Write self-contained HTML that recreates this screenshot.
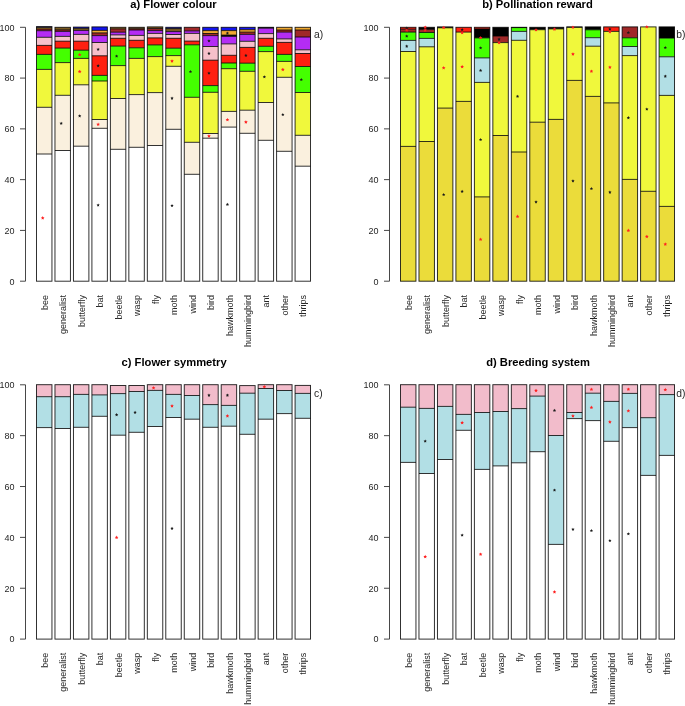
<!DOCTYPE html>
<html><head><meta charset="utf-8"><title>Pollination syndromes</title>
<style>
html,body{margin:0;padding:0;background:#fff;}
body{width:685px;height:706px;overflow:hidden;}
svg{display:block;will-change:transform;}
text{font-family:"Liberation Sans",sans-serif;fill:#262626;}
.s{stroke:rgba(0,0,0,0.85);stroke-width:0.95;fill:none;}
.ax{stroke:#333;stroke-width:0.9;}
.yl{font-size:9px;text-anchor:end;}
.xl{font-size:9px;text-anchor:end;}
.tt{font-size:11.2px;font-weight:bold;text-anchor:middle;fill:#000;}
.tg{font-size:10.3px;}
</style></head><body>
<svg width="685" height="706" viewBox="0 0 685 706">
<rect width="685" height="706" fill="#fff"/>
<rect x="36.50" y="26.60" width="15.45" height="1.20" fill="#202060"/>
<rect x="36.50" y="27.80" width="15.45" height="1.20" fill="#F0A830"/>
<rect x="36.50" y="29.00" width="15.45" height="1.70" fill="#A02828"/>
<rect x="36.50" y="30.70" width="15.45" height="6.60" fill="#B42CF4"/>
<rect x="36.50" y="37.30" width="15.45" height="8.10" fill="#F6C0CA"/>
<rect x="36.50" y="45.40" width="15.45" height="9.00" fill="#FF2010"/>
<rect x="36.50" y="54.40" width="15.45" height="15.00" fill="#44FF00"/>
<rect x="36.50" y="69.40" width="15.45" height="37.90" fill="#F0F83C"/>
<rect x="36.50" y="107.30" width="15.45" height="46.70" fill="#FAF0DE"/>
<rect x="36.50" y="154.00" width="15.45" height="127.20" fill="#FFFFFF"/>
<line x1="36.50" y1="27.80" x2="51.95" y2="27.80" class="s"/>
<line x1="36.50" y1="29.00" x2="51.95" y2="29.00" class="s"/>
<line x1="36.50" y1="30.70" x2="51.95" y2="30.70" class="s"/>
<line x1="36.50" y1="37.30" x2="51.95" y2="37.30" class="s"/>
<line x1="36.50" y1="45.40" x2="51.95" y2="45.40" class="s"/>
<line x1="36.50" y1="54.40" x2="51.95" y2="54.40" class="s"/>
<line x1="36.50" y1="69.40" x2="51.95" y2="69.40" class="s"/>
<line x1="36.50" y1="107.30" x2="51.95" y2="107.30" class="s"/>
<line x1="36.50" y1="154.00" x2="51.95" y2="154.00" class="s"/>
<rect x="36.50" y="26.60" width="15.45" height="254.60" fill="none" class="s"/>
<rect x="54.97" y="27.30" width="15.45" height="2.60" fill="#7A5A20"/>
<rect x="54.97" y="29.90" width="15.45" height="1.50" fill="#A02828"/>
<rect x="54.97" y="31.40" width="15.45" height="5.00" fill="#B42CF4"/>
<rect x="54.97" y="36.40" width="15.45" height="4.80" fill="#F6C0CA"/>
<rect x="54.97" y="41.20" width="15.45" height="6.90" fill="#FF2010"/>
<rect x="54.97" y="48.10" width="15.45" height="14.50" fill="#44FF00"/>
<rect x="54.97" y="62.60" width="15.45" height="32.70" fill="#F0F83C"/>
<rect x="54.97" y="95.30" width="15.45" height="55.20" fill="#FAF0DE"/>
<rect x="54.97" y="150.50" width="15.45" height="130.70" fill="#FFFFFF"/>
<line x1="54.97" y1="29.90" x2="70.42" y2="29.90" class="s"/>
<line x1="54.97" y1="31.40" x2="70.42" y2="31.40" class="s"/>
<line x1="54.97" y1="36.40" x2="70.42" y2="36.40" class="s"/>
<line x1="54.97" y1="41.20" x2="70.42" y2="41.20" class="s"/>
<line x1="54.97" y1="48.10" x2="70.42" y2="48.10" class="s"/>
<line x1="54.97" y1="62.60" x2="70.42" y2="62.60" class="s"/>
<line x1="54.97" y1="95.30" x2="70.42" y2="95.30" class="s"/>
<line x1="54.97" y1="150.50" x2="70.42" y2="150.50" class="s"/>
<rect x="54.97" y="27.30" width="15.45" height="253.90" fill="none" class="s"/>
<rect x="73.44" y="27.10" width="15.45" height="1.20" fill="#1414EE"/>
<rect x="73.44" y="28.30" width="15.45" height="2.10" fill="#7A5A20"/>
<rect x="73.44" y="30.40" width="15.45" height="4.00" fill="#B42CF4"/>
<rect x="73.44" y="34.40" width="15.45" height="6.80" fill="#F6C0CA"/>
<rect x="73.44" y="41.20" width="15.45" height="9.00" fill="#FF2010"/>
<rect x="73.44" y="50.20" width="15.45" height="8.20" fill="#44FF00"/>
<rect x="73.44" y="58.40" width="15.45" height="26.40" fill="#F0F83C"/>
<rect x="73.44" y="84.80" width="15.45" height="61.40" fill="#FAF0DE"/>
<rect x="73.44" y="146.20" width="15.45" height="135.00" fill="#FFFFFF"/>
<line x1="73.44" y1="28.30" x2="88.89" y2="28.30" class="s"/>
<line x1="73.44" y1="30.40" x2="88.89" y2="30.40" class="s"/>
<line x1="73.44" y1="34.40" x2="88.89" y2="34.40" class="s"/>
<line x1="73.44" y1="41.20" x2="88.89" y2="41.20" class="s"/>
<line x1="73.44" y1="50.20" x2="88.89" y2="50.20" class="s"/>
<line x1="73.44" y1="58.40" x2="88.89" y2="58.40" class="s"/>
<line x1="73.44" y1="84.80" x2="88.89" y2="84.80" class="s"/>
<line x1="73.44" y1="146.20" x2="88.89" y2="146.20" class="s"/>
<rect x="73.44" y="27.10" width="15.45" height="254.10" fill="none" class="s"/>
<rect x="91.91" y="26.90" width="15.45" height="3.50" fill="#1414EE"/>
<rect x="91.91" y="30.40" width="15.45" height="2.50" fill="#F0A830"/>
<rect x="91.91" y="32.90" width="15.45" height="2.70" fill="#A02828"/>
<rect x="91.91" y="35.60" width="15.45" height="6.90" fill="#B42CF4"/>
<rect x="91.91" y="42.50" width="15.45" height="13.30" fill="#F6C0CA"/>
<rect x="91.91" y="55.80" width="15.45" height="19.60" fill="#FF2010"/>
<rect x="91.91" y="75.40" width="15.45" height="5.60" fill="#44FF00"/>
<rect x="91.91" y="81.00" width="15.45" height="38.50" fill="#F0F83C"/>
<rect x="91.91" y="119.50" width="15.45" height="8.80" fill="#FAF0DE"/>
<rect x="91.91" y="128.30" width="15.45" height="152.90" fill="#FFFFFF"/>
<line x1="91.91" y1="30.40" x2="107.36" y2="30.40" class="s"/>
<line x1="91.91" y1="32.90" x2="107.36" y2="32.90" class="s"/>
<line x1="91.91" y1="35.60" x2="107.36" y2="35.60" class="s"/>
<line x1="91.91" y1="42.50" x2="107.36" y2="42.50" class="s"/>
<line x1="91.91" y1="55.80" x2="107.36" y2="55.80" class="s"/>
<line x1="91.91" y1="75.40" x2="107.36" y2="75.40" class="s"/>
<line x1="91.91" y1="81.00" x2="107.36" y2="81.00" class="s"/>
<line x1="91.91" y1="119.50" x2="107.36" y2="119.50" class="s"/>
<line x1="91.91" y1="128.30" x2="107.36" y2="128.30" class="s"/>
<rect x="91.91" y="26.90" width="15.45" height="254.30" fill="none" class="s"/>
<rect x="110.38" y="27.30" width="15.45" height="1.60" fill="#9A6A1A"/>
<rect x="110.38" y="28.90" width="15.45" height="3.30" fill="#A02828"/>
<rect x="110.38" y="32.20" width="15.45" height="2.70" fill="#B42CF4"/>
<rect x="110.38" y="34.90" width="15.45" height="3.40" fill="#F6C0CA"/>
<rect x="110.38" y="38.30" width="15.45" height="7.80" fill="#FF2010"/>
<rect x="110.38" y="46.10" width="15.45" height="19.50" fill="#44FF00"/>
<rect x="110.38" y="65.60" width="15.45" height="32.90" fill="#F0F83C"/>
<rect x="110.38" y="98.50" width="15.45" height="50.80" fill="#FAF0DE"/>
<rect x="110.38" y="149.30" width="15.45" height="131.90" fill="#FFFFFF"/>
<line x1="110.38" y1="28.90" x2="125.83" y2="28.90" class="s"/>
<line x1="110.38" y1="32.20" x2="125.83" y2="32.20" class="s"/>
<line x1="110.38" y1="34.90" x2="125.83" y2="34.90" class="s"/>
<line x1="110.38" y1="38.30" x2="125.83" y2="38.30" class="s"/>
<line x1="110.38" y1="46.10" x2="125.83" y2="46.10" class="s"/>
<line x1="110.38" y1="65.60" x2="125.83" y2="65.60" class="s"/>
<line x1="110.38" y1="98.50" x2="125.83" y2="98.50" class="s"/>
<line x1="110.38" y1="149.30" x2="125.83" y2="149.30" class="s"/>
<rect x="110.38" y="27.30" width="15.45" height="253.90" fill="none" class="s"/>
<rect x="128.85" y="27.30" width="15.45" height="1.50" fill="#7A5A20"/>
<rect x="128.85" y="28.80" width="15.45" height="1.20" fill="#A02828"/>
<rect x="128.85" y="30.00" width="15.45" height="5.40" fill="#B42CF4"/>
<rect x="128.85" y="35.40" width="15.45" height="4.90" fill="#F6C0CA"/>
<rect x="128.85" y="40.30" width="15.45" height="7.50" fill="#FF2010"/>
<rect x="128.85" y="47.80" width="15.45" height="10.60" fill="#44FF00"/>
<rect x="128.85" y="58.40" width="15.45" height="36.20" fill="#F0F83C"/>
<rect x="128.85" y="94.60" width="15.45" height="52.70" fill="#FAF0DE"/>
<rect x="128.85" y="147.30" width="15.45" height="133.90" fill="#FFFFFF"/>
<line x1="128.85" y1="28.80" x2="144.30" y2="28.80" class="s"/>
<line x1="128.85" y1="30.00" x2="144.30" y2="30.00" class="s"/>
<line x1="128.85" y1="35.40" x2="144.30" y2="35.40" class="s"/>
<line x1="128.85" y1="40.30" x2="144.30" y2="40.30" class="s"/>
<line x1="128.85" y1="47.80" x2="144.30" y2="47.80" class="s"/>
<line x1="128.85" y1="58.40" x2="144.30" y2="58.40" class="s"/>
<line x1="128.85" y1="94.60" x2="144.30" y2="94.60" class="s"/>
<line x1="128.85" y1="147.30" x2="144.30" y2="147.30" class="s"/>
<rect x="128.85" y="27.30" width="15.45" height="253.90" fill="none" class="s"/>
<rect x="147.32" y="26.90" width="15.45" height="1.70" fill="#7A5A20"/>
<rect x="147.32" y="28.60" width="15.45" height="2.00" fill="#A02828"/>
<rect x="147.32" y="30.60" width="15.45" height="2.80" fill="#B42CF4"/>
<rect x="147.32" y="33.40" width="15.45" height="4.50" fill="#F6C0CA"/>
<rect x="147.32" y="37.90" width="15.45" height="7.00" fill="#FF2010"/>
<rect x="147.32" y="44.90" width="15.45" height="11.70" fill="#44FF00"/>
<rect x="147.32" y="56.60" width="15.45" height="36.00" fill="#F0F83C"/>
<rect x="147.32" y="92.60" width="15.45" height="52.90" fill="#FAF0DE"/>
<rect x="147.32" y="145.50" width="15.45" height="135.70" fill="#FFFFFF"/>
<line x1="147.32" y1="28.60" x2="162.77" y2="28.60" class="s"/>
<line x1="147.32" y1="30.60" x2="162.77" y2="30.60" class="s"/>
<line x1="147.32" y1="33.40" x2="162.77" y2="33.40" class="s"/>
<line x1="147.32" y1="37.90" x2="162.77" y2="37.90" class="s"/>
<line x1="147.32" y1="44.90" x2="162.77" y2="44.90" class="s"/>
<line x1="147.32" y1="56.60" x2="162.77" y2="56.60" class="s"/>
<line x1="147.32" y1="92.60" x2="162.77" y2="92.60" class="s"/>
<line x1="147.32" y1="145.50" x2="162.77" y2="145.50" class="s"/>
<rect x="147.32" y="26.90" width="15.45" height="254.30" fill="none" class="s"/>
<rect x="165.79" y="27.30" width="15.45" height="1.30" fill="#1414EE"/>
<rect x="165.79" y="28.60" width="15.45" height="3.00" fill="#7A5A20"/>
<rect x="165.79" y="31.60" width="15.45" height="2.90" fill="#B42CF4"/>
<rect x="165.79" y="34.50" width="15.45" height="3.80" fill="#F6C0CA"/>
<rect x="165.79" y="38.30" width="15.45" height="9.90" fill="#FF2010"/>
<rect x="165.79" y="48.20" width="15.45" height="7.40" fill="#44FF00"/>
<rect x="165.79" y="55.60" width="15.45" height="10.70" fill="#F0F83C"/>
<rect x="165.79" y="66.30" width="15.45" height="63.00" fill="#FAF0DE"/>
<rect x="165.79" y="129.30" width="15.45" height="151.90" fill="#FFFFFF"/>
<line x1="165.79" y1="28.60" x2="181.24" y2="28.60" class="s"/>
<line x1="165.79" y1="31.60" x2="181.24" y2="31.60" class="s"/>
<line x1="165.79" y1="34.50" x2="181.24" y2="34.50" class="s"/>
<line x1="165.79" y1="38.30" x2="181.24" y2="38.30" class="s"/>
<line x1="165.79" y1="48.20" x2="181.24" y2="48.20" class="s"/>
<line x1="165.79" y1="55.60" x2="181.24" y2="55.60" class="s"/>
<line x1="165.79" y1="66.30" x2="181.24" y2="66.30" class="s"/>
<line x1="165.79" y1="129.30" x2="181.24" y2="129.30" class="s"/>
<rect x="165.79" y="27.30" width="15.45" height="253.90" fill="none" class="s"/>
<rect x="184.26" y="27.30" width="15.45" height="3.60" fill="#A02828"/>
<rect x="184.26" y="30.90" width="15.45" height="2.50" fill="#B42CF4"/>
<rect x="184.26" y="33.40" width="15.45" height="7.70" fill="#F6C0CA"/>
<rect x="184.26" y="41.10" width="15.45" height="3.70" fill="#FF2010"/>
<rect x="184.26" y="44.80" width="15.45" height="52.50" fill="#44FF00"/>
<rect x="184.26" y="97.30" width="15.45" height="45.00" fill="#F0F83C"/>
<rect x="184.26" y="142.30" width="15.45" height="32.00" fill="#FAF0DE"/>
<rect x="184.26" y="174.30" width="15.45" height="106.90" fill="#FFFFFF"/>
<line x1="184.26" y1="30.90" x2="199.71" y2="30.90" class="s"/>
<line x1="184.26" y1="33.40" x2="199.71" y2="33.40" class="s"/>
<line x1="184.26" y1="41.10" x2="199.71" y2="41.10" class="s"/>
<line x1="184.26" y1="44.80" x2="199.71" y2="44.80" class="s"/>
<line x1="184.26" y1="97.30" x2="199.71" y2="97.30" class="s"/>
<line x1="184.26" y1="142.30" x2="199.71" y2="142.30" class="s"/>
<line x1="184.26" y1="174.30" x2="199.71" y2="174.30" class="s"/>
<rect x="184.26" y="27.30" width="15.45" height="253.90" fill="none" class="s"/>
<rect x="202.73" y="27.30" width="15.45" height="3.30" fill="#1414EE"/>
<rect x="202.73" y="30.60" width="15.45" height="2.90" fill="#F0A830"/>
<rect x="202.73" y="33.50" width="15.45" height="2.10" fill="#A02828"/>
<rect x="202.73" y="35.60" width="15.45" height="10.90" fill="#B42CF4"/>
<rect x="202.73" y="46.50" width="15.45" height="13.70" fill="#F6C0CA"/>
<rect x="202.73" y="60.20" width="15.45" height="25.40" fill="#FF2010"/>
<rect x="202.73" y="85.60" width="15.45" height="6.70" fill="#44FF00"/>
<rect x="202.73" y="92.30" width="15.45" height="41.20" fill="#F0F83C"/>
<rect x="202.73" y="133.50" width="15.45" height="4.70" fill="#FAF0DE"/>
<rect x="202.73" y="138.20" width="15.45" height="143.00" fill="#FFFFFF"/>
<line x1="202.73" y1="30.60" x2="218.18" y2="30.60" class="s"/>
<line x1="202.73" y1="33.50" x2="218.18" y2="33.50" class="s"/>
<line x1="202.73" y1="35.60" x2="218.18" y2="35.60" class="s"/>
<line x1="202.73" y1="46.50" x2="218.18" y2="46.50" class="s"/>
<line x1="202.73" y1="60.20" x2="218.18" y2="60.20" class="s"/>
<line x1="202.73" y1="85.60" x2="218.18" y2="85.60" class="s"/>
<line x1="202.73" y1="92.30" x2="218.18" y2="92.30" class="s"/>
<line x1="202.73" y1="133.50" x2="218.18" y2="133.50" class="s"/>
<line x1="202.73" y1="138.20" x2="218.18" y2="138.20" class="s"/>
<rect x="202.73" y="27.30" width="15.45" height="253.90" fill="none" class="s"/>
<rect x="221.20" y="27.30" width="15.45" height="3.30" fill="#1414EE"/>
<rect x="221.20" y="30.60" width="15.45" height="4.50" fill="#F0A830"/>
<rect x="221.20" y="35.10" width="15.45" height="1.30" fill="#000000"/>
<rect x="221.20" y="36.40" width="15.45" height="7.50" fill="#B42CF4"/>
<rect x="221.20" y="43.90" width="15.45" height="11.40" fill="#F6C0CA"/>
<rect x="221.20" y="55.30" width="15.45" height="7.70" fill="#FF2010"/>
<rect x="221.20" y="63.00" width="15.45" height="5.70" fill="#44FF00"/>
<rect x="221.20" y="68.70" width="15.45" height="42.70" fill="#F0F83C"/>
<rect x="221.20" y="111.40" width="15.45" height="15.70" fill="#FAF0DE"/>
<rect x="221.20" y="127.10" width="15.45" height="154.10" fill="#FFFFFF"/>
<line x1="221.20" y1="30.60" x2="236.65" y2="30.60" class="s"/>
<line x1="221.20" y1="35.10" x2="236.65" y2="35.10" class="s"/>
<line x1="221.20" y1="36.40" x2="236.65" y2="36.40" class="s"/>
<line x1="221.20" y1="43.90" x2="236.65" y2="43.90" class="s"/>
<line x1="221.20" y1="55.30" x2="236.65" y2="55.30" class="s"/>
<line x1="221.20" y1="63.00" x2="236.65" y2="63.00" class="s"/>
<line x1="221.20" y1="68.70" x2="236.65" y2="68.70" class="s"/>
<line x1="221.20" y1="111.40" x2="236.65" y2="111.40" class="s"/>
<line x1="221.20" y1="127.10" x2="236.65" y2="127.10" class="s"/>
<rect x="221.20" y="27.30" width="15.45" height="253.90" fill="none" class="s"/>
<rect x="239.67" y="27.30" width="15.45" height="2.40" fill="#1414EE"/>
<rect x="239.67" y="29.70" width="15.45" height="2.40" fill="#F0A830"/>
<rect x="239.67" y="32.10" width="15.45" height="2.30" fill="#A02828"/>
<rect x="239.67" y="34.40" width="15.45" height="6.90" fill="#B42CF4"/>
<rect x="239.67" y="41.30" width="15.45" height="6.10" fill="#F6C0CA"/>
<rect x="239.67" y="47.40" width="15.45" height="15.80" fill="#FF2010"/>
<rect x="239.67" y="63.20" width="15.45" height="8.10" fill="#44FF00"/>
<rect x="239.67" y="71.30" width="15.45" height="38.90" fill="#F0F83C"/>
<rect x="239.67" y="110.20" width="15.45" height="23.10" fill="#FAF0DE"/>
<rect x="239.67" y="133.30" width="15.45" height="147.90" fill="#FFFFFF"/>
<line x1="239.67" y1="29.70" x2="255.12" y2="29.70" class="s"/>
<line x1="239.67" y1="32.10" x2="255.12" y2="32.10" class="s"/>
<line x1="239.67" y1="34.40" x2="255.12" y2="34.40" class="s"/>
<line x1="239.67" y1="41.30" x2="255.12" y2="41.30" class="s"/>
<line x1="239.67" y1="47.40" x2="255.12" y2="47.40" class="s"/>
<line x1="239.67" y1="63.20" x2="255.12" y2="63.20" class="s"/>
<line x1="239.67" y1="71.30" x2="255.12" y2="71.30" class="s"/>
<line x1="239.67" y1="110.20" x2="255.12" y2="110.20" class="s"/>
<line x1="239.67" y1="133.30" x2="255.12" y2="133.30" class="s"/>
<rect x="239.67" y="27.30" width="15.45" height="253.90" fill="none" class="s"/>
<rect x="258.14" y="27.30" width="15.45" height="0.90" fill="#000000"/>
<rect x="258.14" y="28.20" width="15.45" height="5.40" fill="#B42CF4"/>
<rect x="258.14" y="33.60" width="15.45" height="4.70" fill="#F6C0CA"/>
<rect x="258.14" y="38.30" width="15.45" height="8.00" fill="#FF2010"/>
<rect x="258.14" y="46.30" width="15.45" height="5.30" fill="#44FF00"/>
<rect x="258.14" y="51.60" width="15.45" height="50.90" fill="#F0F83C"/>
<rect x="258.14" y="102.50" width="15.45" height="37.80" fill="#FAF0DE"/>
<rect x="258.14" y="140.30" width="15.45" height="140.90" fill="#FFFFFF"/>
<line x1="258.14" y1="28.20" x2="273.59" y2="28.20" class="s"/>
<line x1="258.14" y1="33.60" x2="273.59" y2="33.60" class="s"/>
<line x1="258.14" y1="38.30" x2="273.59" y2="38.30" class="s"/>
<line x1="258.14" y1="46.30" x2="273.59" y2="46.30" class="s"/>
<line x1="258.14" y1="51.60" x2="273.59" y2="51.60" class="s"/>
<line x1="258.14" y1="102.50" x2="273.59" y2="102.50" class="s"/>
<line x1="258.14" y1="140.30" x2="273.59" y2="140.30" class="s"/>
<rect x="258.14" y="27.30" width="15.45" height="253.90" fill="none" class="s"/>
<rect x="276.61" y="27.30" width="15.45" height="2.70" fill="#F0A830"/>
<rect x="276.61" y="30.00" width="15.45" height="2.10" fill="#A02828"/>
<rect x="276.61" y="32.10" width="15.45" height="6.80" fill="#B42CF4"/>
<rect x="276.61" y="38.90" width="15.45" height="3.50" fill="#F6C0CA"/>
<rect x="276.61" y="42.40" width="15.45" height="12.00" fill="#FF2010"/>
<rect x="276.61" y="54.40" width="15.45" height="7.00" fill="#44FF00"/>
<rect x="276.61" y="61.40" width="15.45" height="15.90" fill="#F0F83C"/>
<rect x="276.61" y="77.30" width="15.45" height="74.00" fill="#FAF0DE"/>
<rect x="276.61" y="151.30" width="15.45" height="129.90" fill="#FFFFFF"/>
<line x1="276.61" y1="30.00" x2="292.06" y2="30.00" class="s"/>
<line x1="276.61" y1="32.10" x2="292.06" y2="32.10" class="s"/>
<line x1="276.61" y1="38.90" x2="292.06" y2="38.90" class="s"/>
<line x1="276.61" y1="42.40" x2="292.06" y2="42.40" class="s"/>
<line x1="276.61" y1="54.40" x2="292.06" y2="54.40" class="s"/>
<line x1="276.61" y1="61.40" x2="292.06" y2="61.40" class="s"/>
<line x1="276.61" y1="77.30" x2="292.06" y2="77.30" class="s"/>
<line x1="276.61" y1="151.30" x2="292.06" y2="151.30" class="s"/>
<rect x="276.61" y="27.30" width="15.45" height="253.90" fill="none" class="s"/>
<rect x="295.08" y="27.30" width="15.45" height="2.70" fill="#F0A830"/>
<rect x="295.08" y="30.00" width="15.45" height="7.00" fill="#A02828"/>
<rect x="295.08" y="37.00" width="15.45" height="12.80" fill="#B42CF4"/>
<rect x="295.08" y="49.80" width="15.45" height="3.70" fill="#F6C0CA"/>
<rect x="295.08" y="53.50" width="15.45" height="13.00" fill="#FF2010"/>
<rect x="295.08" y="66.50" width="15.45" height="26.00" fill="#44FF00"/>
<rect x="295.08" y="92.50" width="15.45" height="42.80" fill="#F0F83C"/>
<rect x="295.08" y="135.30" width="15.45" height="30.90" fill="#FAF0DE"/>
<rect x="295.08" y="166.20" width="15.45" height="115.00" fill="#FFFFFF"/>
<line x1="295.08" y1="30.00" x2="310.53" y2="30.00" class="s"/>
<line x1="295.08" y1="37.00" x2="310.53" y2="37.00" class="s"/>
<line x1="295.08" y1="49.80" x2="310.53" y2="49.80" class="s"/>
<line x1="295.08" y1="53.50" x2="310.53" y2="53.50" class="s"/>
<line x1="295.08" y1="66.50" x2="310.53" y2="66.50" class="s"/>
<line x1="295.08" y1="92.50" x2="310.53" y2="92.50" class="s"/>
<line x1="295.08" y1="135.30" x2="310.53" y2="135.30" class="s"/>
<line x1="295.08" y1="166.20" x2="310.53" y2="166.20" class="s"/>
<rect x="295.08" y="27.30" width="15.45" height="253.90" fill="none" class="s"/>
<polygon points="42.73,216.10 43.28,217.23 44.53,217.41 43.63,218.29 43.84,219.54 42.73,218.95 41.61,219.54 41.82,218.29 40.92,217.41 42.17,217.23" fill="#FF2020"/>
<polygon points="61.20,121.69 61.70,122.71 62.82,122.87 62.01,123.66 62.20,124.78 61.20,124.26 60.19,124.78 60.38,123.66 59.57,122.87 60.69,122.71" fill="#1a1a1a"/>
<polygon points="79.66,52.80 80.22,53.93 81.47,54.11 80.57,54.99 80.78,56.24 79.66,55.65 78.55,56.24 78.76,54.99 77.86,54.11 79.11,53.93" fill="#FF2020"/>
<polygon points="79.66,69.70 80.22,70.83 81.47,71.01 80.57,71.89 80.78,73.14 79.66,72.55 78.55,73.14 78.76,71.89 77.86,71.01 79.11,70.83" fill="#FF2020"/>
<polygon points="79.66,114.29 80.17,115.31 81.29,115.47 80.48,116.26 80.67,117.38 79.66,116.86 78.66,117.38 78.85,116.26 78.04,115.47 79.16,115.31" fill="#1a1a1a"/>
<polygon points="98.13,47.69 98.64,48.71 99.76,48.87 98.95,49.66 99.14,50.78 98.13,50.25 97.13,50.78 97.32,49.66 96.51,48.87 97.63,48.71" fill="#1a1a1a"/>
<polygon points="98.13,64.09 98.64,65.11 99.76,65.27 98.95,66.06 99.14,67.18 98.13,66.66 97.13,67.18 97.32,66.06 96.51,65.27 97.63,65.11" fill="#1a1a1a"/>
<polygon points="98.13,122.50 98.69,123.63 99.94,123.81 99.04,124.69 99.25,125.94 98.13,125.35 97.02,125.94 97.23,124.69 96.33,123.81 97.58,123.63" fill="#FF2020"/>
<polygon points="98.13,203.39 98.64,204.41 99.76,204.57 98.95,205.36 99.14,206.48 98.13,205.95 97.13,206.48 97.32,205.36 96.51,204.57 97.63,204.41" fill="#1a1a1a"/>
<polygon points="116.60,54.49 117.11,55.51 118.23,55.67 117.42,56.46 117.61,57.58 116.60,57.05 115.60,57.58 115.79,56.46 114.98,55.67 116.10,55.51" fill="#1a1a1a"/>
<polygon points="172.01,59.20 172.57,60.33 173.82,60.51 172.92,61.39 173.13,62.64 172.01,62.05 170.90,62.64 171.11,61.39 170.21,60.51 171.46,60.33" fill="#FF2020"/>
<polygon points="172.01,96.59 172.52,97.61 173.64,97.77 172.83,98.56 173.02,99.68 172.01,99.16 171.01,99.68 171.20,98.56 170.39,97.77 171.51,97.61" fill="#1a1a1a"/>
<polygon points="172.01,203.99 172.52,205.01 173.64,205.17 172.83,205.96 173.02,207.08 172.01,206.55 171.01,207.08 171.20,205.96 170.39,205.17 171.51,205.01" fill="#1a1a1a"/>
<polygon points="190.48,69.89 190.99,70.91 192.11,71.07 191.30,71.86 191.49,72.98 190.48,72.45 189.48,72.98 189.67,71.86 188.86,71.07 189.98,70.91" fill="#1a1a1a"/>
<polygon points="208.95,39.19 209.46,40.21 210.58,40.37 209.77,41.16 209.96,42.28 208.95,41.75 207.95,42.28 208.14,41.16 207.33,40.37 208.45,40.21" fill="#1a1a1a"/>
<polygon points="208.95,51.79 209.46,52.81 210.58,52.97 209.77,53.76 209.96,54.88 208.95,54.35 207.95,54.88 208.14,53.76 207.33,52.97 208.45,52.81" fill="#1a1a1a"/>
<polygon points="208.95,71.49 209.46,72.51 210.58,72.67 209.77,73.46 209.96,74.58 208.95,74.06 207.95,74.58 208.14,73.46 207.33,72.67 208.45,72.51" fill="#1a1a1a"/>
<polygon points="208.95,134.20 209.51,135.33 210.76,135.51 209.86,136.39 210.07,137.64 208.95,137.05 207.84,137.64 208.05,136.39 207.15,135.51 208.40,135.33" fill="#FF2020"/>
<polygon points="227.42,31.59 227.93,32.61 229.05,32.77 228.24,33.56 228.43,34.68 227.42,34.15 226.42,34.68 226.61,33.56 225.80,32.77 226.92,32.61" fill="#1a1a1a"/>
<polygon points="227.42,117.90 227.98,119.03 229.23,119.21 228.33,120.09 228.54,121.34 227.42,120.75 226.31,121.34 226.52,120.09 225.62,119.21 226.87,119.03" fill="#FF2020"/>
<polygon points="227.42,202.79 227.93,203.81 229.05,203.97 228.24,204.76 228.43,205.88 227.42,205.35 226.42,205.88 226.61,204.76 225.80,203.97 226.92,203.81" fill="#1a1a1a"/>
<polygon points="245.89,53.79 246.40,54.81 247.52,54.97 246.71,55.76 246.90,56.88 245.89,56.35 244.89,56.88 245.08,55.76 244.27,54.97 245.39,54.81" fill="#1a1a1a"/>
<polygon points="245.89,120.20 246.45,121.33 247.70,121.51 246.80,122.39 247.01,123.64 245.89,123.05 244.78,123.64 244.99,122.39 244.09,121.51 245.34,121.33" fill="#FF2020"/>
<polygon points="264.37,75.19 264.87,76.21 265.99,76.37 265.18,77.16 265.37,78.28 264.37,77.76 263.36,78.28 263.55,77.16 262.74,76.37 263.86,76.21" fill="#1a1a1a"/>
<polygon points="282.84,67.70 283.39,68.83 284.64,69.01 283.74,69.89 283.95,71.14 282.84,70.55 281.72,71.14 281.93,69.89 281.03,69.01 282.28,68.83" fill="#FF2020"/>
<polygon points="282.84,112.89 283.34,113.91 284.46,114.07 283.65,114.86 283.84,115.98 282.84,115.45 281.83,115.98 282.02,114.86 281.21,114.07 282.33,113.91" fill="#1a1a1a"/>
<polygon points="301.31,77.89 301.81,78.91 302.93,79.07 302.12,79.86 302.31,80.98 301.31,80.45 300.30,80.98 300.49,79.86 299.68,79.07 300.80,78.91" fill="#1a1a1a"/>
<line x1="25.50" y1="27.30" x2="25.50" y2="281.20" class="ax"/>
<line x1="20.00" y1="281.20" x2="25.50" y2="281.20" class="ax"/>
<text x="14.50" y="284.50" class="yl">0</text>
<line x1="20.00" y1="230.42" x2="25.50" y2="230.42" class="ax"/>
<text x="14.50" y="233.72" class="yl">20</text>
<line x1="20.00" y1="179.64" x2="25.50" y2="179.64" class="ax"/>
<text x="14.50" y="182.94" class="yl">40</text>
<line x1="20.00" y1="128.86" x2="25.50" y2="128.86" class="ax"/>
<text x="14.50" y="132.16" class="yl">60</text>
<line x1="20.00" y1="78.08" x2="25.50" y2="78.08" class="ax"/>
<text x="14.50" y="81.38" class="yl">80</text>
<line x1="20.00" y1="27.30" x2="25.50" y2="27.30" class="ax"/>
<text x="14.50" y="30.60" class="yl">100</text>
<text transform="translate(47.83,294.90) rotate(-90)" class="xl">bee</text>
<text transform="translate(66.30,294.90) rotate(-90)" class="xl">generalist</text>
<text transform="translate(84.76,294.90) rotate(-90)" class="xl">butterfly</text>
<text transform="translate(103.23,294.90) rotate(-90)" class="xl">bat</text>
<text transform="translate(121.70,294.90) rotate(-90)" class="xl">beetle</text>
<text transform="translate(140.17,294.90) rotate(-90)" class="xl">wasp</text>
<text transform="translate(158.64,294.90) rotate(-90)" class="xl">fly</text>
<text transform="translate(177.11,294.90) rotate(-90)" class="xl">moth</text>
<text transform="translate(195.58,294.90) rotate(-90)" class="xl">wind</text>
<text transform="translate(214.05,294.90) rotate(-90)" class="xl">bird</text>
<text transform="translate(232.52,294.90) rotate(-90)" class="xl">hawkmoth</text>
<text transform="translate(250.99,294.90) rotate(-90)" class="xl">hummingbird</text>
<text transform="translate(269.47,294.90) rotate(-90)" class="xl">ant</text>
<text transform="translate(287.94,294.90) rotate(-90)" class="xl">other</text>
<text transform="translate(306.41,294.90) rotate(-90)" class="xl">thrips</text>
<text x="173.50" y="8.00" class="tt">a) Flower colour</text>
<text x="314.00" y="37.80" class="tg">a)</text>
<rect x="400.50" y="27.30" width="15.45" height="1.80" fill="#FF2010"/>
<rect x="400.50" y="29.10" width="15.45" height="3.00" fill="#A02828"/>
<rect x="400.50" y="32.10" width="15.45" height="8.30" fill="#44FF00"/>
<rect x="400.50" y="40.40" width="15.45" height="11.10" fill="#B2DFE5"/>
<rect x="400.50" y="51.50" width="15.45" height="94.90" fill="#F0F83C"/>
<rect x="400.50" y="146.40" width="15.45" height="134.80" fill="#EBDC3A"/>
<line x1="400.50" y1="29.10" x2="415.95" y2="29.10" class="s"/>
<line x1="400.50" y1="32.10" x2="415.95" y2="32.10" class="s"/>
<line x1="400.50" y1="40.40" x2="415.95" y2="40.40" class="s"/>
<line x1="400.50" y1="51.50" x2="415.95" y2="51.50" class="s"/>
<line x1="400.50" y1="146.40" x2="415.95" y2="146.40" class="s"/>
<rect x="400.50" y="27.30" width="15.45" height="253.90" fill="none" class="s"/>
<rect x="418.97" y="27.30" width="15.45" height="2.10" fill="#000000"/>
<rect x="418.97" y="29.40" width="15.45" height="3.10" fill="#A02828"/>
<rect x="418.97" y="32.50" width="15.45" height="5.90" fill="#44FF00"/>
<rect x="418.97" y="38.40" width="15.45" height="8.40" fill="#B2DFE5"/>
<rect x="418.97" y="46.80" width="15.45" height="94.70" fill="#F0F83C"/>
<rect x="418.97" y="141.50" width="15.45" height="139.70" fill="#EBDC3A"/>
<line x1="418.97" y1="29.40" x2="434.42" y2="29.40" class="s"/>
<line x1="418.97" y1="32.50" x2="434.42" y2="32.50" class="s"/>
<line x1="418.97" y1="38.40" x2="434.42" y2="38.40" class="s"/>
<line x1="418.97" y1="46.80" x2="434.42" y2="46.80" class="s"/>
<line x1="418.97" y1="141.50" x2="434.42" y2="141.50" class="s"/>
<rect x="418.97" y="27.30" width="15.45" height="253.90" fill="none" class="s"/>
<rect x="437.44" y="26.90" width="15.45" height="0.90" fill="#000000"/>
<rect x="437.44" y="27.80" width="15.45" height="80.30" fill="#F0F83C"/>
<rect x="437.44" y="108.10" width="15.45" height="173.10" fill="#EBDC3A"/>
<line x1="437.44" y1="27.80" x2="452.89" y2="27.80" class="s"/>
<line x1="437.44" y1="108.10" x2="452.89" y2="108.10" class="s"/>
<rect x="437.44" y="26.90" width="15.45" height="254.30" fill="none" class="s"/>
<rect x="455.91" y="27.30" width="15.45" height="4.80" fill="#FF2010"/>
<rect x="455.91" y="32.10" width="15.45" height="69.30" fill="#F0F83C"/>
<rect x="455.91" y="101.40" width="15.45" height="179.80" fill="#EBDC3A"/>
<line x1="455.91" y1="32.10" x2="471.36" y2="32.10" class="s"/>
<line x1="455.91" y1="101.40" x2="471.36" y2="101.40" class="s"/>
<rect x="455.91" y="27.30" width="15.45" height="253.90" fill="none" class="s"/>
<rect x="474.38" y="27.30" width="15.45" height="1.60" fill="#FF2010"/>
<rect x="474.38" y="28.90" width="15.45" height="9.00" fill="#000000"/>
<rect x="474.38" y="37.90" width="15.45" height="20.00" fill="#44FF00"/>
<rect x="474.38" y="57.90" width="15.45" height="24.50" fill="#B2DFE5"/>
<rect x="474.38" y="82.40" width="15.45" height="114.50" fill="#F0F83C"/>
<rect x="474.38" y="196.90" width="15.45" height="84.30" fill="#EBDC3A"/>
<line x1="474.38" y1="28.90" x2="489.83" y2="28.90" class="s"/>
<line x1="474.38" y1="37.90" x2="489.83" y2="37.90" class="s"/>
<line x1="474.38" y1="57.90" x2="489.83" y2="57.90" class="s"/>
<line x1="474.38" y1="82.40" x2="489.83" y2="82.40" class="s"/>
<line x1="474.38" y1="196.90" x2="489.83" y2="196.90" class="s"/>
<rect x="474.38" y="27.30" width="15.45" height="253.90" fill="none" class="s"/>
<rect x="492.85" y="27.30" width="15.45" height="8.70" fill="#000000"/>
<rect x="492.85" y="36.00" width="15.45" height="6.60" fill="#A02828"/>
<rect x="492.85" y="42.60" width="15.45" height="92.90" fill="#F0F83C"/>
<rect x="492.85" y="135.50" width="15.45" height="145.70" fill="#EBDC3A"/>
<line x1="492.85" y1="36.00" x2="508.30" y2="36.00" class="s"/>
<line x1="492.85" y1="42.60" x2="508.30" y2="42.60" class="s"/>
<line x1="492.85" y1="135.50" x2="508.30" y2="135.50" class="s"/>
<rect x="492.85" y="27.30" width="15.45" height="253.90" fill="none" class="s"/>
<rect x="511.32" y="27.30" width="15.45" height="0.30" fill="#000000"/>
<rect x="511.32" y="27.60" width="15.45" height="3.80" fill="#44FF00"/>
<rect x="511.32" y="31.40" width="15.45" height="8.90" fill="#B2DFE5"/>
<rect x="511.32" y="40.30" width="15.45" height="111.70" fill="#F0F83C"/>
<rect x="511.32" y="152.00" width="15.45" height="129.20" fill="#EBDC3A"/>
<line x1="511.32" y1="27.60" x2="526.77" y2="27.60" class="s"/>
<line x1="511.32" y1="31.40" x2="526.77" y2="31.40" class="s"/>
<line x1="511.32" y1="40.30" x2="526.77" y2="40.30" class="s"/>
<line x1="511.32" y1="152.00" x2="526.77" y2="152.00" class="s"/>
<rect x="511.32" y="27.30" width="15.45" height="253.90" fill="none" class="s"/>
<rect x="529.79" y="27.30" width="15.45" height="2.40" fill="#000000"/>
<rect x="529.79" y="29.70" width="15.45" height="92.50" fill="#F0F83C"/>
<rect x="529.79" y="122.20" width="15.45" height="159.00" fill="#EBDC3A"/>
<line x1="529.79" y1="29.70" x2="545.24" y2="29.70" class="s"/>
<line x1="529.79" y1="122.20" x2="545.24" y2="122.20" class="s"/>
<rect x="529.79" y="27.30" width="15.45" height="253.90" fill="none" class="s"/>
<rect x="548.26" y="27.30" width="15.45" height="1.60" fill="#000000"/>
<rect x="548.26" y="28.90" width="15.45" height="90.50" fill="#F0F83C"/>
<rect x="548.26" y="119.40" width="15.45" height="161.80" fill="#EBDC3A"/>
<line x1="548.26" y1="28.90" x2="563.71" y2="28.90" class="s"/>
<line x1="548.26" y1="119.40" x2="563.71" y2="119.40" class="s"/>
<rect x="548.26" y="27.30" width="15.45" height="253.90" fill="none" class="s"/>
<rect x="566.73" y="26.90" width="15.45" height="0.40" fill="#000000"/>
<rect x="566.73" y="27.30" width="15.45" height="53.10" fill="#F0F83C"/>
<rect x="566.73" y="80.40" width="15.45" height="200.80" fill="#EBDC3A"/>
<line x1="566.73" y1="27.30" x2="582.18" y2="27.30" class="s"/>
<line x1="566.73" y1="80.40" x2="582.18" y2="80.40" class="s"/>
<rect x="566.73" y="26.90" width="15.45" height="254.30" fill="none" class="s"/>
<rect x="585.20" y="26.90" width="15.45" height="2.90" fill="#000000"/>
<rect x="585.20" y="29.80" width="15.45" height="7.90" fill="#44FF00"/>
<rect x="585.20" y="37.70" width="15.45" height="8.50" fill="#B2DFE5"/>
<rect x="585.20" y="46.20" width="15.45" height="50.20" fill="#F0F83C"/>
<rect x="585.20" y="96.40" width="15.45" height="184.80" fill="#EBDC3A"/>
<line x1="585.20" y1="29.80" x2="600.65" y2="29.80" class="s"/>
<line x1="585.20" y1="37.70" x2="600.65" y2="37.70" class="s"/>
<line x1="585.20" y1="46.20" x2="600.65" y2="46.20" class="s"/>
<line x1="585.20" y1="96.40" x2="600.65" y2="96.40" class="s"/>
<rect x="585.20" y="26.90" width="15.45" height="254.30" fill="none" class="s"/>
<rect x="603.67" y="26.90" width="15.45" height="4.50" fill="#FF2010"/>
<rect x="603.67" y="31.40" width="15.45" height="71.50" fill="#F0F83C"/>
<rect x="603.67" y="102.90" width="15.45" height="178.30" fill="#EBDC3A"/>
<line x1="603.67" y1="31.40" x2="619.12" y2="31.40" class="s"/>
<line x1="603.67" y1="102.90" x2="619.12" y2="102.90" class="s"/>
<rect x="603.67" y="26.90" width="15.45" height="254.30" fill="none" class="s"/>
<rect x="622.14" y="26.90" width="15.45" height="10.90" fill="#A02828"/>
<rect x="622.14" y="37.80" width="15.45" height="8.70" fill="#44FF00"/>
<rect x="622.14" y="46.50" width="15.45" height="9.10" fill="#B2DFE5"/>
<rect x="622.14" y="55.60" width="15.45" height="123.80" fill="#F0F83C"/>
<rect x="622.14" y="179.40" width="15.45" height="101.80" fill="#EBDC3A"/>
<line x1="622.14" y1="37.80" x2="637.59" y2="37.80" class="s"/>
<line x1="622.14" y1="46.50" x2="637.59" y2="46.50" class="s"/>
<line x1="622.14" y1="55.60" x2="637.59" y2="55.60" class="s"/>
<line x1="622.14" y1="179.40" x2="637.59" y2="179.40" class="s"/>
<rect x="622.14" y="26.90" width="15.45" height="254.30" fill="none" class="s"/>
<rect x="640.61" y="26.90" width="15.45" height="164.40" fill="#F0F83C"/>
<rect x="640.61" y="191.30" width="15.45" height="89.90" fill="#EBDC3A"/>
<line x1="640.61" y1="191.30" x2="656.06" y2="191.30" class="s"/>
<rect x="640.61" y="26.90" width="15.45" height="254.30" fill="none" class="s"/>
<rect x="659.08" y="26.90" width="15.45" height="11.20" fill="#000000"/>
<rect x="659.08" y="38.10" width="15.45" height="18.70" fill="#44FF00"/>
<rect x="659.08" y="56.80" width="15.45" height="38.60" fill="#B2DFE5"/>
<rect x="659.08" y="95.40" width="15.45" height="111.00" fill="#F0F83C"/>
<rect x="659.08" y="206.40" width="15.45" height="74.80" fill="#EBDC3A"/>
<line x1="659.08" y1="38.10" x2="674.53" y2="38.10" class="s"/>
<line x1="659.08" y1="56.80" x2="674.53" y2="56.80" class="s"/>
<line x1="659.08" y1="95.40" x2="674.53" y2="95.40" class="s"/>
<line x1="659.08" y1="206.40" x2="674.53" y2="206.40" class="s"/>
<rect x="659.08" y="26.90" width="15.45" height="254.30" fill="none" class="s"/>
<polygon points="406.73,26.49 407.23,27.51 408.35,27.67 407.54,28.46 407.73,29.58 406.73,29.05 405.72,29.58 405.91,28.46 405.10,27.67 406.22,27.51" fill="#1a1a1a"/>
<polygon points="406.73,28.40 407.28,29.53 408.53,29.71 407.63,30.59 407.84,31.84 406.73,31.25 405.61,31.84 405.82,30.59 404.92,29.71 406.17,29.53" fill="#FF2020"/>
<polygon points="406.73,34.49 407.23,35.51 408.35,35.67 407.54,36.46 407.73,37.58 406.73,37.05 405.72,37.58 405.91,36.46 405.10,35.67 406.22,35.51" fill="#1a1a1a"/>
<polygon points="406.73,44.59 407.23,45.61 408.35,45.77 407.54,46.56 407.73,47.68 406.73,47.15 405.72,47.68 405.91,46.56 405.10,45.77 406.22,45.61" fill="#1a1a1a"/>
<polygon points="425.20,25.40 425.75,26.53 427.00,26.71 426.10,27.59 426.31,28.84 425.20,28.25 424.08,28.84 424.29,27.59 423.39,26.71 424.64,26.53" fill="#FF2020"/>
<polygon points="425.20,28.30 425.75,29.43 427.00,29.61 426.10,30.49 426.31,31.74 425.20,31.15 424.08,31.74 424.29,30.49 423.39,29.61 424.64,29.43" fill="#FF2020"/>
<polygon points="443.67,25.70 444.22,26.83 445.47,27.01 444.57,27.89 444.78,29.14 443.67,28.55 442.55,29.14 442.76,27.89 441.86,27.01 443.11,26.83" fill="#FF2020"/>
<polygon points="443.67,66.00 444.22,67.13 445.47,67.31 444.57,68.19 444.78,69.44 443.67,68.85 442.55,69.44 442.76,68.19 441.86,67.31 443.11,67.13" fill="#FF2020"/>
<polygon points="443.67,192.89 444.17,193.91 445.29,194.07 444.48,194.86 444.67,195.98 443.67,195.45 442.66,195.98 442.85,194.86 442.04,194.07 443.16,193.91" fill="#1a1a1a"/>
<polygon points="462.13,27.89 462.64,28.91 463.76,29.07 462.95,29.86 463.14,30.98 462.13,30.46 461.13,30.98 461.32,29.86 460.51,29.07 461.63,28.91" fill="#1a1a1a"/>
<polygon points="462.13,30.80 462.69,31.93 463.94,32.11 463.04,32.99 463.25,34.24 462.13,33.65 461.02,34.24 461.23,32.99 460.33,32.11 461.58,31.93" fill="#FF2020"/>
<polygon points="462.13,64.80 462.69,65.93 463.94,66.11 463.04,66.99 463.25,68.24 462.13,67.65 461.02,68.24 461.23,66.99 460.33,66.11 461.58,65.93" fill="#FF2020"/>
<polygon points="462.13,189.79 462.64,190.81 463.76,190.97 462.95,191.76 463.14,192.88 462.13,192.35 461.13,192.88 461.32,191.76 460.51,190.97 461.63,190.81" fill="#1a1a1a"/>
<polygon points="480.61,35.90 481.16,37.03 482.41,37.21 481.51,38.09 481.72,39.34 480.61,38.75 479.49,39.34 479.70,38.09 478.80,37.21 480.05,37.03" fill="#FF2020"/>
<polygon points="480.61,46.19 481.11,47.21 482.23,47.37 481.42,48.16 481.61,49.28 480.61,48.75 479.60,49.28 479.79,48.16 478.98,47.37 480.10,47.21" fill="#1a1a1a"/>
<polygon points="480.61,68.79 481.11,69.81 482.23,69.97 481.42,70.76 481.61,71.88 480.61,71.36 479.60,71.88 479.79,70.76 478.98,69.97 480.10,69.81" fill="#1a1a1a"/>
<polygon points="480.61,137.99 481.11,139.01 482.23,139.17 481.42,139.96 481.61,141.08 480.61,140.55 479.60,141.08 479.79,139.96 478.98,139.17 480.10,139.01" fill="#1a1a1a"/>
<polygon points="480.61,237.50 481.16,238.63 482.41,238.81 481.51,239.69 481.72,240.94 480.61,240.35 479.49,240.94 479.70,239.69 478.80,238.81 480.05,238.63" fill="#FF2020"/>
<polygon points="499.08,37.59 499.58,38.61 500.70,38.77 499.89,39.56 500.08,40.68 499.08,40.15 498.07,40.68 498.26,39.56 497.45,38.77 498.57,38.61" fill="#1a1a1a"/>
<polygon points="499.08,40.90 499.63,42.03 500.88,42.21 499.98,43.09 500.19,44.34 499.08,43.75 497.96,44.34 498.17,43.09 497.27,42.21 498.52,42.03" fill="#FF2020"/>
<polygon points="517.54,94.69 518.05,95.71 519.17,95.87 518.36,96.66 518.55,97.78 517.54,97.26 516.54,97.78 516.73,96.66 515.92,95.87 517.04,95.71" fill="#1a1a1a"/>
<polygon points="517.54,214.60 518.10,215.73 519.35,215.91 518.45,216.79 518.66,218.04 517.54,217.45 516.43,218.04 516.64,216.79 515.74,215.91 516.99,215.73" fill="#FF2020"/>
<polygon points="536.01,28.00 536.57,29.13 537.82,29.31 536.92,30.19 537.13,31.44 536.01,30.85 534.90,31.44 535.11,30.19 534.21,29.31 535.46,29.13" fill="#FF2020"/>
<polygon points="536.01,200.29 536.52,201.31 537.64,201.47 536.83,202.26 537.02,203.38 536.01,202.85 535.01,203.38 535.20,202.26 534.39,201.47 535.51,201.31" fill="#1a1a1a"/>
<polygon points="554.49,27.30 555.04,28.43 556.29,28.61 555.39,29.49 555.60,30.74 554.49,30.15 553.37,30.74 553.58,29.49 552.68,28.61 553.93,28.43" fill="#FF2020"/>
<polygon points="572.96,25.40 573.51,26.53 574.76,26.71 573.86,27.59 574.07,28.84 572.96,28.25 571.84,28.84 572.05,27.59 571.15,26.71 572.40,26.53" fill="#FF2020"/>
<polygon points="572.96,52.20 573.51,53.33 574.76,53.51 573.86,54.39 574.07,55.64 572.96,55.05 571.84,55.64 572.05,54.39 571.15,53.51 572.40,53.33" fill="#FF2020"/>
<polygon points="572.96,179.29 573.46,180.31 574.58,180.47 573.77,181.26 573.96,182.38 572.96,181.85 571.95,182.38 572.14,181.26 571.33,180.47 572.45,180.31" fill="#1a1a1a"/>
<polygon points="591.43,69.40 591.98,70.53 593.23,70.71 592.33,71.59 592.54,72.84 591.43,72.25 590.31,72.84 590.52,71.59 589.62,70.71 590.87,70.53" fill="#FF2020"/>
<polygon points="591.43,186.89 591.93,187.91 593.05,188.07 592.24,188.86 592.43,189.98 591.43,189.45 590.42,189.98 590.61,188.86 589.80,188.07 590.92,187.91" fill="#1a1a1a"/>
<polygon points="609.89,27.49 610.40,28.51 611.52,28.67 610.71,29.46 610.90,30.58 609.89,30.05 608.89,30.58 609.08,29.46 608.27,28.67 609.39,28.51" fill="#1a1a1a"/>
<polygon points="609.89,30.00 610.45,31.13 611.70,31.31 610.80,32.19 611.01,33.44 609.89,32.85 608.78,33.44 608.99,32.19 608.09,31.31 609.34,31.13" fill="#FF2020"/>
<polygon points="609.89,65.40 610.45,66.53 611.70,66.71 610.80,67.59 611.01,68.84 609.89,68.25 608.78,68.84 608.99,67.59 608.09,66.71 609.34,66.53" fill="#FF2020"/>
<polygon points="609.89,190.59 610.40,191.61 611.52,191.77 610.71,192.56 610.90,193.68 609.89,193.16 608.89,193.68 609.08,192.56 608.27,191.77 609.39,191.61" fill="#1a1a1a"/>
<polygon points="628.37,30.99 628.87,32.01 629.99,32.17 629.18,32.96 629.37,34.08 628.37,33.55 627.36,34.08 627.55,32.96 626.74,32.17 627.86,32.01" fill="#1a1a1a"/>
<polygon points="628.37,116.09 628.87,117.11 629.99,117.27 629.18,118.06 629.37,119.18 628.37,118.66 627.36,119.18 627.55,118.06 626.74,117.27 627.86,117.11" fill="#1a1a1a"/>
<polygon points="628.37,228.60 628.92,229.73 630.17,229.91 629.27,230.79 629.48,232.04 628.37,231.45 627.25,232.04 627.46,230.79 626.56,229.91 627.81,229.73" fill="#FF2020"/>
<polygon points="646.84,25.00 647.39,26.13 648.64,26.31 647.74,27.19 647.95,28.44 646.84,27.85 645.72,28.44 645.93,27.19 645.03,26.31 646.28,26.13" fill="#FF2020"/>
<polygon points="646.84,107.49 647.34,108.51 648.46,108.67 647.65,109.46 647.84,110.58 646.84,110.06 645.83,110.58 646.02,109.46 645.21,108.67 646.33,108.51" fill="#1a1a1a"/>
<polygon points="646.84,234.70 647.39,235.83 648.64,236.01 647.74,236.89 647.95,238.14 646.84,237.55 645.72,238.14 645.93,236.89 645.03,236.01 646.28,235.83" fill="#FF2020"/>
<polygon points="665.30,45.99 665.81,47.01 666.93,47.17 666.12,47.96 666.31,49.08 665.30,48.55 664.30,49.08 664.49,47.96 663.68,47.17 664.80,47.01" fill="#1a1a1a"/>
<polygon points="665.30,74.59 665.81,75.61 666.93,75.77 666.12,76.56 666.31,77.68 665.30,77.16 664.30,77.68 664.49,76.56 663.68,75.77 664.80,75.61" fill="#1a1a1a"/>
<polygon points="665.30,242.30 665.86,243.43 667.11,243.61 666.21,244.49 666.42,245.74 665.30,245.15 664.19,245.74 664.40,244.49 663.50,243.61 664.75,243.43" fill="#FF2020"/>
<line x1="389.50" y1="27.30" x2="389.50" y2="281.20" class="ax"/>
<line x1="384.00" y1="281.20" x2="389.50" y2="281.20" class="ax"/>
<text x="378.50" y="284.50" class="yl">0</text>
<line x1="384.00" y1="230.42" x2="389.50" y2="230.42" class="ax"/>
<text x="378.50" y="233.72" class="yl">20</text>
<line x1="384.00" y1="179.64" x2="389.50" y2="179.64" class="ax"/>
<text x="378.50" y="182.94" class="yl">40</text>
<line x1="384.00" y1="128.86" x2="389.50" y2="128.86" class="ax"/>
<text x="378.50" y="132.16" class="yl">60</text>
<line x1="384.00" y1="78.08" x2="389.50" y2="78.08" class="ax"/>
<text x="378.50" y="81.38" class="yl">80</text>
<line x1="384.00" y1="27.30" x2="389.50" y2="27.30" class="ax"/>
<text x="378.50" y="30.60" class="yl">100</text>
<text transform="translate(411.83,294.90) rotate(-90)" class="xl">bee</text>
<text transform="translate(430.30,294.90) rotate(-90)" class="xl">generalist</text>
<text transform="translate(448.77,294.90) rotate(-90)" class="xl">butterfly</text>
<text transform="translate(467.24,294.90) rotate(-90)" class="xl">bat</text>
<text transform="translate(485.71,294.90) rotate(-90)" class="xl">beetle</text>
<text transform="translate(504.18,294.90) rotate(-90)" class="xl">wasp</text>
<text transform="translate(522.64,294.90) rotate(-90)" class="xl">fly</text>
<text transform="translate(541.12,294.90) rotate(-90)" class="xl">moth</text>
<text transform="translate(559.59,294.90) rotate(-90)" class="xl">wind</text>
<text transform="translate(578.06,294.90) rotate(-90)" class="xl">bird</text>
<text transform="translate(596.53,294.90) rotate(-90)" class="xl">hawkmoth</text>
<text transform="translate(615.00,294.90) rotate(-90)" class="xl">hummingbird</text>
<text transform="translate(633.47,294.90) rotate(-90)" class="xl">ant</text>
<text transform="translate(651.94,294.90) rotate(-90)" class="xl">other</text>
<text transform="translate(670.40,294.90) rotate(-90)" class="xl">thrips</text>
<text x="537.50" y="8.00" class="tt">b) Pollination reward</text>
<text x="676.30" y="37.80" class="tg">b)</text>
<rect x="36.50" y="384.70" width="15.45" height="12.00" fill="#F2BCCB"/>
<rect x="36.50" y="396.70" width="15.45" height="30.90" fill="#B2DFE5"/>
<rect x="36.50" y="427.60" width="15.45" height="211.50" fill="#FFFFFF"/>
<line x1="36.50" y1="396.70" x2="51.95" y2="396.70" class="s"/>
<line x1="36.50" y1="427.60" x2="51.95" y2="427.60" class="s"/>
<rect x="36.50" y="384.70" width="15.45" height="254.40" fill="none" class="s"/>
<rect x="54.97" y="384.70" width="15.45" height="12.00" fill="#F2BCCB"/>
<rect x="54.97" y="396.70" width="15.45" height="31.80" fill="#B2DFE5"/>
<rect x="54.97" y="428.50" width="15.45" height="210.60" fill="#FFFFFF"/>
<line x1="54.97" y1="396.70" x2="70.42" y2="396.70" class="s"/>
<line x1="54.97" y1="428.50" x2="70.42" y2="428.50" class="s"/>
<rect x="54.97" y="384.70" width="15.45" height="254.40" fill="none" class="s"/>
<rect x="73.44" y="384.70" width="15.45" height="9.70" fill="#F2BCCB"/>
<rect x="73.44" y="394.40" width="15.45" height="32.90" fill="#B2DFE5"/>
<rect x="73.44" y="427.30" width="15.45" height="211.80" fill="#FFFFFF"/>
<line x1="73.44" y1="394.40" x2="88.89" y2="394.40" class="s"/>
<line x1="73.44" y1="427.30" x2="88.89" y2="427.30" class="s"/>
<rect x="73.44" y="384.70" width="15.45" height="254.40" fill="none" class="s"/>
<rect x="91.91" y="384.70" width="15.45" height="10.20" fill="#F2BCCB"/>
<rect x="91.91" y="394.90" width="15.45" height="21.40" fill="#B2DFE5"/>
<rect x="91.91" y="416.30" width="15.45" height="222.80" fill="#FFFFFF"/>
<line x1="91.91" y1="394.90" x2="107.36" y2="394.90" class="s"/>
<line x1="91.91" y1="416.30" x2="107.36" y2="416.30" class="s"/>
<rect x="91.91" y="384.70" width="15.45" height="254.40" fill="none" class="s"/>
<rect x="110.38" y="385.50" width="15.45" height="8.10" fill="#F2BCCB"/>
<rect x="110.38" y="393.60" width="15.45" height="41.60" fill="#B2DFE5"/>
<rect x="110.38" y="435.20" width="15.45" height="203.90" fill="#FFFFFF"/>
<line x1="110.38" y1="393.60" x2="125.83" y2="393.60" class="s"/>
<line x1="110.38" y1="435.20" x2="125.83" y2="435.20" class="s"/>
<rect x="110.38" y="385.50" width="15.45" height="253.60" fill="none" class="s"/>
<rect x="128.85" y="385.50" width="15.45" height="6.00" fill="#F2BCCB"/>
<rect x="128.85" y="391.50" width="15.45" height="40.80" fill="#B2DFE5"/>
<rect x="128.85" y="432.30" width="15.45" height="206.80" fill="#FFFFFF"/>
<line x1="128.85" y1="391.50" x2="144.30" y2="391.50" class="s"/>
<line x1="128.85" y1="432.30" x2="144.30" y2="432.30" class="s"/>
<rect x="128.85" y="385.50" width="15.45" height="253.60" fill="none" class="s"/>
<rect x="147.32" y="384.70" width="15.45" height="5.70" fill="#F2BCCB"/>
<rect x="147.32" y="390.40" width="15.45" height="36.10" fill="#B2DFE5"/>
<rect x="147.32" y="426.50" width="15.45" height="212.60" fill="#FFFFFF"/>
<line x1="147.32" y1="390.40" x2="162.77" y2="390.40" class="s"/>
<line x1="147.32" y1="426.50" x2="162.77" y2="426.50" class="s"/>
<rect x="147.32" y="384.70" width="15.45" height="254.40" fill="none" class="s"/>
<rect x="165.79" y="384.70" width="15.45" height="9.70" fill="#F2BCCB"/>
<rect x="165.79" y="394.40" width="15.45" height="23.10" fill="#B2DFE5"/>
<rect x="165.79" y="417.50" width="15.45" height="221.60" fill="#FFFFFF"/>
<line x1="165.79" y1="394.40" x2="181.24" y2="394.40" class="s"/>
<line x1="165.79" y1="417.50" x2="181.24" y2="417.50" class="s"/>
<rect x="165.79" y="384.70" width="15.45" height="254.40" fill="none" class="s"/>
<rect x="184.26" y="384.70" width="15.45" height="10.80" fill="#F2BCCB"/>
<rect x="184.26" y="395.50" width="15.45" height="23.70" fill="#B2DFE5"/>
<rect x="184.26" y="419.20" width="15.45" height="219.90" fill="#FFFFFF"/>
<line x1="184.26" y1="395.50" x2="199.71" y2="395.50" class="s"/>
<line x1="184.26" y1="419.20" x2="199.71" y2="419.20" class="s"/>
<rect x="184.26" y="384.70" width="15.45" height="254.40" fill="none" class="s"/>
<rect x="202.73" y="384.70" width="15.45" height="19.90" fill="#F2BCCB"/>
<rect x="202.73" y="404.60" width="15.45" height="22.70" fill="#B2DFE5"/>
<rect x="202.73" y="427.30" width="15.45" height="211.80" fill="#FFFFFF"/>
<line x1="202.73" y1="404.60" x2="218.18" y2="404.60" class="s"/>
<line x1="202.73" y1="427.30" x2="218.18" y2="427.30" class="s"/>
<rect x="202.73" y="384.70" width="15.45" height="254.40" fill="none" class="s"/>
<rect x="221.20" y="384.70" width="15.45" height="20.70" fill="#F2BCCB"/>
<rect x="221.20" y="405.40" width="15.45" height="20.80" fill="#B2DFE5"/>
<rect x="221.20" y="426.20" width="15.45" height="212.90" fill="#FFFFFF"/>
<line x1="221.20" y1="405.40" x2="236.65" y2="405.40" class="s"/>
<line x1="221.20" y1="426.20" x2="236.65" y2="426.20" class="s"/>
<rect x="221.20" y="384.70" width="15.45" height="254.40" fill="none" class="s"/>
<rect x="239.67" y="385.60" width="15.45" height="7.60" fill="#F2BCCB"/>
<rect x="239.67" y="393.20" width="15.45" height="41.10" fill="#B2DFE5"/>
<rect x="239.67" y="434.30" width="15.45" height="204.80" fill="#FFFFFF"/>
<line x1="239.67" y1="393.20" x2="255.12" y2="393.20" class="s"/>
<line x1="239.67" y1="434.30" x2="255.12" y2="434.30" class="s"/>
<rect x="239.67" y="385.60" width="15.45" height="253.50" fill="none" class="s"/>
<rect x="258.14" y="384.70" width="15.45" height="3.80" fill="#F2BCCB"/>
<rect x="258.14" y="388.50" width="15.45" height="30.70" fill="#B2DFE5"/>
<rect x="258.14" y="419.20" width="15.45" height="219.90" fill="#FFFFFF"/>
<line x1="258.14" y1="388.50" x2="273.59" y2="388.50" class="s"/>
<line x1="258.14" y1="419.20" x2="273.59" y2="419.20" class="s"/>
<rect x="258.14" y="384.70" width="15.45" height="254.40" fill="none" class="s"/>
<rect x="276.61" y="384.70" width="15.45" height="5.80" fill="#F2BCCB"/>
<rect x="276.61" y="390.50" width="15.45" height="23.10" fill="#B2DFE5"/>
<rect x="276.61" y="413.60" width="15.45" height="225.50" fill="#FFFFFF"/>
<line x1="276.61" y1="390.50" x2="292.06" y2="390.50" class="s"/>
<line x1="276.61" y1="413.60" x2="292.06" y2="413.60" class="s"/>
<rect x="276.61" y="384.70" width="15.45" height="254.40" fill="none" class="s"/>
<rect x="295.08" y="385.40" width="15.45" height="8.00" fill="#F2BCCB"/>
<rect x="295.08" y="393.40" width="15.45" height="24.90" fill="#B2DFE5"/>
<rect x="295.08" y="418.30" width="15.45" height="220.80" fill="#FFFFFF"/>
<line x1="295.08" y1="393.40" x2="310.53" y2="393.40" class="s"/>
<line x1="295.08" y1="418.30" x2="310.53" y2="418.30" class="s"/>
<rect x="295.08" y="385.40" width="15.45" height="253.70" fill="none" class="s"/>
<polygon points="116.60,413.09 117.11,414.11 118.23,414.27 117.42,415.06 117.61,416.18 116.60,415.66 115.60,416.18 115.79,415.06 114.98,414.27 116.10,414.11" fill="#1a1a1a"/>
<polygon points="116.60,535.60 117.16,536.73 118.41,536.91 117.51,537.79 117.72,539.04 116.60,538.45 115.49,539.04 115.70,537.79 114.80,536.91 116.05,536.73" fill="#FF2020"/>
<polygon points="135.07,410.79 135.58,411.81 136.70,411.97 135.89,412.76 136.08,413.88 135.07,413.36 134.07,413.88 134.26,412.76 133.45,411.97 134.57,411.81" fill="#1a1a1a"/>
<polygon points="153.54,386.00 154.10,387.13 155.35,387.31 154.45,388.19 154.66,389.44 153.54,388.85 152.43,389.44 152.64,388.19 151.74,387.31 152.99,387.13" fill="#FF2020"/>
<polygon points="172.01,404.10 172.57,405.23 173.82,405.41 172.92,406.29 173.13,407.54 172.01,406.95 170.90,407.54 171.11,406.29 170.21,405.41 171.46,405.23" fill="#FF2020"/>
<polygon points="172.01,526.79 172.52,527.81 173.64,527.97 172.83,528.76 173.02,529.88 172.01,529.36 171.01,529.88 171.20,528.76 170.39,527.97 171.51,527.81" fill="#1a1a1a"/>
<polygon points="208.95,393.59 209.46,394.61 210.58,394.77 209.77,395.56 209.96,396.68 208.95,396.16 207.95,396.68 208.14,395.56 207.33,394.77 208.45,394.61" fill="#1a1a1a"/>
<polygon points="227.42,393.59 227.93,394.61 229.05,394.77 228.24,395.56 228.43,396.68 227.42,396.16 226.42,396.68 226.61,395.56 225.80,394.77 226.92,394.61" fill="#1a1a1a"/>
<polygon points="227.42,414.10 227.98,415.23 229.23,415.41 228.33,416.29 228.54,417.54 227.42,416.95 226.31,417.54 226.52,416.29 225.62,415.41 226.87,415.23" fill="#FF2020"/>
<polygon points="264.37,384.90 264.92,386.03 266.17,386.21 265.27,387.09 265.48,388.34 264.37,387.75 263.25,388.34 263.46,387.09 262.56,386.21 263.81,386.03" fill="#FF2020"/>
<line x1="25.50" y1="384.80" x2="25.50" y2="639.10" class="ax"/>
<line x1="20.00" y1="639.10" x2="25.50" y2="639.10" class="ax"/>
<text x="14.50" y="642.40" class="yl">0</text>
<line x1="20.00" y1="588.24" x2="25.50" y2="588.24" class="ax"/>
<text x="14.50" y="591.54" class="yl">20</text>
<line x1="20.00" y1="537.38" x2="25.50" y2="537.38" class="ax"/>
<text x="14.50" y="540.68" class="yl">40</text>
<line x1="20.00" y1="486.52" x2="25.50" y2="486.52" class="ax"/>
<text x="14.50" y="489.82" class="yl">60</text>
<line x1="20.00" y1="435.66" x2="25.50" y2="435.66" class="ax"/>
<text x="14.50" y="438.96" class="yl">80</text>
<line x1="20.00" y1="384.80" x2="25.50" y2="384.80" class="ax"/>
<text x="14.50" y="388.10" class="yl">100</text>
<text transform="translate(47.83,652.80) rotate(-90)" class="xl">bee</text>
<text transform="translate(66.30,652.80) rotate(-90)" class="xl">generalist</text>
<text transform="translate(84.76,652.80) rotate(-90)" class="xl">butterfly</text>
<text transform="translate(103.23,652.80) rotate(-90)" class="xl">bat</text>
<text transform="translate(121.70,652.80) rotate(-90)" class="xl">beetle</text>
<text transform="translate(140.17,652.80) rotate(-90)" class="xl">wasp</text>
<text transform="translate(158.64,652.80) rotate(-90)" class="xl">fly</text>
<text transform="translate(177.11,652.80) rotate(-90)" class="xl">moth</text>
<text transform="translate(195.58,652.80) rotate(-90)" class="xl">wind</text>
<text transform="translate(214.05,652.80) rotate(-90)" class="xl">bird</text>
<text transform="translate(232.52,652.80) rotate(-90)" class="xl">hawkmoth</text>
<text transform="translate(250.99,652.80) rotate(-90)" class="xl">hummingbird</text>
<text transform="translate(269.47,652.80) rotate(-90)" class="xl">ant</text>
<text transform="translate(287.94,652.80) rotate(-90)" class="xl">other</text>
<text transform="translate(306.41,652.80) rotate(-90)" class="xl">thrips</text>
<text x="174.10" y="366.20" class="tt">c) Flower symmetry</text>
<text x="314.00" y="397.30" class="tg">c)</text>
<rect x="400.50" y="384.70" width="15.45" height="22.50" fill="#F2BCCB"/>
<rect x="400.50" y="407.20" width="15.45" height="55.20" fill="#B2DFE5"/>
<rect x="400.50" y="462.40" width="15.45" height="176.70" fill="#FFFFFF"/>
<line x1="400.50" y1="407.20" x2="415.95" y2="407.20" class="s"/>
<line x1="400.50" y1="462.40" x2="415.95" y2="462.40" class="s"/>
<rect x="400.50" y="384.70" width="15.45" height="254.40" fill="none" class="s"/>
<rect x="418.97" y="384.70" width="15.45" height="23.70" fill="#F2BCCB"/>
<rect x="418.97" y="408.40" width="15.45" height="65.10" fill="#B2DFE5"/>
<rect x="418.97" y="473.50" width="15.45" height="165.60" fill="#FFFFFF"/>
<line x1="418.97" y1="408.40" x2="434.42" y2="408.40" class="s"/>
<line x1="418.97" y1="473.50" x2="434.42" y2="473.50" class="s"/>
<rect x="418.97" y="384.70" width="15.45" height="254.40" fill="none" class="s"/>
<rect x="437.44" y="384.70" width="15.45" height="21.70" fill="#F2BCCB"/>
<rect x="437.44" y="406.40" width="15.45" height="53.10" fill="#B2DFE5"/>
<rect x="437.44" y="459.50" width="15.45" height="179.60" fill="#FFFFFF"/>
<line x1="437.44" y1="406.40" x2="452.89" y2="406.40" class="s"/>
<line x1="437.44" y1="459.50" x2="452.89" y2="459.50" class="s"/>
<rect x="437.44" y="384.70" width="15.45" height="254.40" fill="none" class="s"/>
<rect x="455.91" y="384.70" width="15.45" height="29.70" fill="#F2BCCB"/>
<rect x="455.91" y="414.40" width="15.45" height="15.90" fill="#B2DFE5"/>
<rect x="455.91" y="430.30" width="15.45" height="208.80" fill="#FFFFFF"/>
<line x1="455.91" y1="414.40" x2="471.36" y2="414.40" class="s"/>
<line x1="455.91" y1="430.30" x2="471.36" y2="430.30" class="s"/>
<rect x="455.91" y="384.70" width="15.45" height="254.40" fill="none" class="s"/>
<rect x="474.38" y="384.70" width="15.45" height="27.80" fill="#F2BCCB"/>
<rect x="474.38" y="412.50" width="15.45" height="56.90" fill="#B2DFE5"/>
<rect x="474.38" y="469.40" width="15.45" height="169.70" fill="#FFFFFF"/>
<line x1="474.38" y1="412.50" x2="489.83" y2="412.50" class="s"/>
<line x1="474.38" y1="469.40" x2="489.83" y2="469.40" class="s"/>
<rect x="474.38" y="384.70" width="15.45" height="254.40" fill="none" class="s"/>
<rect x="492.85" y="384.70" width="15.45" height="26.80" fill="#F2BCCB"/>
<rect x="492.85" y="411.50" width="15.45" height="54.40" fill="#B2DFE5"/>
<rect x="492.85" y="465.90" width="15.45" height="173.20" fill="#FFFFFF"/>
<line x1="492.85" y1="411.50" x2="508.30" y2="411.50" class="s"/>
<line x1="492.85" y1="465.90" x2="508.30" y2="465.90" class="s"/>
<rect x="492.85" y="384.70" width="15.45" height="254.40" fill="none" class="s"/>
<rect x="511.32" y="384.70" width="15.45" height="23.90" fill="#F2BCCB"/>
<rect x="511.32" y="408.60" width="15.45" height="54.20" fill="#B2DFE5"/>
<rect x="511.32" y="462.80" width="15.45" height="176.30" fill="#FFFFFF"/>
<line x1="511.32" y1="408.60" x2="526.77" y2="408.60" class="s"/>
<line x1="511.32" y1="462.80" x2="526.77" y2="462.80" class="s"/>
<rect x="511.32" y="384.70" width="15.45" height="254.40" fill="none" class="s"/>
<rect x="529.79" y="384.70" width="15.45" height="11.40" fill="#F2BCCB"/>
<rect x="529.79" y="396.10" width="15.45" height="55.60" fill="#B2DFE5"/>
<rect x="529.79" y="451.70" width="15.45" height="187.40" fill="#FFFFFF"/>
<line x1="529.79" y1="396.10" x2="545.24" y2="396.10" class="s"/>
<line x1="529.79" y1="451.70" x2="545.24" y2="451.70" class="s"/>
<rect x="529.79" y="384.70" width="15.45" height="254.40" fill="none" class="s"/>
<rect x="548.26" y="384.70" width="15.45" height="50.80" fill="#F2BCCB"/>
<rect x="548.26" y="435.50" width="15.45" height="108.90" fill="#B2DFE5"/>
<rect x="548.26" y="544.40" width="15.45" height="94.70" fill="#FFFFFF"/>
<line x1="548.26" y1="435.50" x2="563.71" y2="435.50" class="s"/>
<line x1="548.26" y1="544.40" x2="563.71" y2="544.40" class="s"/>
<rect x="548.26" y="384.70" width="15.45" height="254.40" fill="none" class="s"/>
<rect x="566.73" y="384.70" width="15.45" height="27.80" fill="#F2BCCB"/>
<rect x="566.73" y="412.50" width="15.45" height="6.10" fill="#B2DFE5"/>
<rect x="566.73" y="418.60" width="15.45" height="220.50" fill="#FFFFFF"/>
<line x1="566.73" y1="412.50" x2="582.18" y2="412.50" class="s"/>
<line x1="566.73" y1="418.60" x2="582.18" y2="418.60" class="s"/>
<rect x="566.73" y="384.70" width="15.45" height="254.40" fill="none" class="s"/>
<rect x="585.20" y="384.70" width="15.45" height="8.50" fill="#F2BCCB"/>
<rect x="585.20" y="393.20" width="15.45" height="27.40" fill="#B2DFE5"/>
<rect x="585.20" y="420.60" width="15.45" height="218.50" fill="#FFFFFF"/>
<line x1="585.20" y1="393.20" x2="600.65" y2="393.20" class="s"/>
<line x1="585.20" y1="420.60" x2="600.65" y2="420.60" class="s"/>
<rect x="585.20" y="384.70" width="15.45" height="254.40" fill="none" class="s"/>
<rect x="603.67" y="384.70" width="15.45" height="16.70" fill="#F2BCCB"/>
<rect x="603.67" y="401.40" width="15.45" height="39.90" fill="#B2DFE5"/>
<rect x="603.67" y="441.30" width="15.45" height="197.80" fill="#FFFFFF"/>
<line x1="603.67" y1="401.40" x2="619.12" y2="401.40" class="s"/>
<line x1="603.67" y1="441.30" x2="619.12" y2="441.30" class="s"/>
<rect x="603.67" y="384.70" width="15.45" height="254.40" fill="none" class="s"/>
<rect x="622.14" y="384.70" width="15.45" height="8.70" fill="#F2BCCB"/>
<rect x="622.14" y="393.40" width="15.45" height="34.20" fill="#B2DFE5"/>
<rect x="622.14" y="427.60" width="15.45" height="211.50" fill="#FFFFFF"/>
<line x1="622.14" y1="393.40" x2="637.59" y2="393.40" class="s"/>
<line x1="622.14" y1="427.60" x2="637.59" y2="427.60" class="s"/>
<rect x="622.14" y="384.70" width="15.45" height="254.40" fill="none" class="s"/>
<rect x="640.61" y="384.70" width="15.45" height="33.00" fill="#F2BCCB"/>
<rect x="640.61" y="417.70" width="15.45" height="57.70" fill="#B2DFE5"/>
<rect x="640.61" y="475.40" width="15.45" height="163.70" fill="#FFFFFF"/>
<line x1="640.61" y1="417.70" x2="656.06" y2="417.70" class="s"/>
<line x1="640.61" y1="475.40" x2="656.06" y2="475.40" class="s"/>
<rect x="640.61" y="384.70" width="15.45" height="254.40" fill="none" class="s"/>
<rect x="659.08" y="384.70" width="15.45" height="9.90" fill="#F2BCCB"/>
<rect x="659.08" y="394.60" width="15.45" height="60.80" fill="#B2DFE5"/>
<rect x="659.08" y="455.40" width="15.45" height="183.70" fill="#FFFFFF"/>
<line x1="659.08" y1="394.60" x2="674.53" y2="394.60" class="s"/>
<line x1="659.08" y1="455.40" x2="674.53" y2="455.40" class="s"/>
<rect x="659.08" y="384.70" width="15.45" height="254.40" fill="none" class="s"/>
<polygon points="425.20,439.49 425.70,440.51 426.82,440.67 426.01,441.46 426.20,442.58 425.20,442.06 424.19,442.58 424.38,441.46 423.57,440.67 424.69,440.51" fill="#1a1a1a"/>
<polygon points="425.20,554.80 425.75,555.93 427.00,556.11 426.10,556.99 426.31,558.24 425.20,557.65 424.08,558.24 424.29,556.99 423.39,556.11 424.64,555.93" fill="#FF2020"/>
<polygon points="462.13,420.80 462.69,421.93 463.94,422.11 463.04,422.99 463.25,424.24 462.13,423.65 461.02,424.24 461.23,422.99 460.33,422.11 461.58,421.93" fill="#FF2020"/>
<polygon points="462.13,533.49 462.64,534.51 463.76,534.67 462.95,535.46 463.14,536.58 462.13,536.06 461.13,536.58 461.32,535.46 460.51,534.67 461.63,534.51" fill="#1a1a1a"/>
<polygon points="480.61,552.40 481.16,553.53 482.41,553.71 481.51,554.59 481.72,555.84 480.61,555.25 479.49,555.84 479.70,554.59 478.80,553.71 480.05,553.53" fill="#FF2020"/>
<polygon points="536.01,388.70 536.57,389.83 537.82,390.01 536.92,390.89 537.13,392.14 536.01,391.55 534.90,392.14 535.11,390.89 534.21,390.01 535.46,389.83" fill="#FF2020"/>
<polygon points="554.49,408.79 554.99,409.81 556.11,409.97 555.30,410.76 555.49,411.88 554.49,411.36 553.48,411.88 553.67,410.76 552.86,409.97 553.98,409.81" fill="#1a1a1a"/>
<polygon points="554.49,488.49 554.99,489.51 556.11,489.67 555.30,490.46 555.49,491.58 554.49,491.06 553.48,491.58 553.67,490.46 552.86,489.67 553.98,489.51" fill="#1a1a1a"/>
<polygon points="554.49,590.10 555.04,591.23 556.29,591.41 555.39,592.29 555.60,593.54 554.49,592.95 553.37,593.54 553.58,592.29 552.68,591.41 553.93,591.23" fill="#FF2020"/>
<polygon points="572.96,414.10 573.51,415.23 574.76,415.41 573.86,416.29 574.07,417.54 572.96,416.95 571.84,417.54 572.05,416.29 571.15,415.41 572.40,415.23" fill="#FF2020"/>
<polygon points="572.96,527.69 573.46,528.71 574.58,528.87 573.77,529.66 573.96,530.78 572.96,530.25 571.95,530.78 572.14,529.66 571.33,528.87 572.45,528.71" fill="#1a1a1a"/>
<polygon points="591.43,387.50 591.98,388.63 593.23,388.81 592.33,389.69 592.54,390.94 591.43,390.35 590.31,390.94 590.52,389.69 589.62,388.81 590.87,388.63" fill="#FF2020"/>
<polygon points="591.43,405.60 591.98,406.73 593.23,406.91 592.33,407.79 592.54,409.04 591.43,408.45 590.31,409.04 590.52,407.79 589.62,406.91 590.87,406.73" fill="#FF2020"/>
<polygon points="591.43,528.89 591.93,529.91 593.05,530.07 592.24,530.86 592.43,531.98 591.43,531.46 590.42,531.98 590.61,530.86 589.80,530.07 590.92,529.91" fill="#1a1a1a"/>
<polygon points="609.89,420.10 610.45,421.23 611.70,421.41 610.80,422.29 611.01,423.54 609.89,422.95 608.78,423.54 608.99,422.29 608.09,421.41 609.34,421.23" fill="#FF2020"/>
<polygon points="609.89,538.89 610.40,539.91 611.52,540.07 610.71,540.86 610.90,541.98 609.89,541.46 608.89,541.98 609.08,540.86 608.27,540.07 609.39,539.91" fill="#1a1a1a"/>
<polygon points="628.37,387.40 628.92,388.53 630.17,388.71 629.27,389.59 629.48,390.84 628.37,390.25 627.25,390.84 627.46,389.59 626.56,388.71 627.81,388.53" fill="#FF2020"/>
<polygon points="628.37,409.00 628.92,410.13 630.17,410.31 629.27,411.19 629.48,412.44 628.37,411.85 627.25,412.44 627.46,411.19 626.56,410.31 627.81,410.13" fill="#FF2020"/>
<polygon points="628.37,532.19 628.87,533.21 629.99,533.37 629.18,534.16 629.37,535.28 628.37,534.75 627.36,535.28 627.55,534.16 626.74,533.37 627.86,533.21" fill="#1a1a1a"/>
<polygon points="665.30,387.80 665.86,388.93 667.11,389.11 666.21,389.99 666.42,391.24 665.30,390.65 664.19,391.24 664.40,389.99 663.50,389.11 664.75,388.93" fill="#FF2020"/>
<line x1="389.50" y1="384.80" x2="389.50" y2="639.10" class="ax"/>
<line x1="384.00" y1="639.10" x2="389.50" y2="639.10" class="ax"/>
<text x="378.50" y="642.40" class="yl">0</text>
<line x1="384.00" y1="588.24" x2="389.50" y2="588.24" class="ax"/>
<text x="378.50" y="591.54" class="yl">20</text>
<line x1="384.00" y1="537.38" x2="389.50" y2="537.38" class="ax"/>
<text x="378.50" y="540.68" class="yl">40</text>
<line x1="384.00" y1="486.52" x2="389.50" y2="486.52" class="ax"/>
<text x="378.50" y="489.82" class="yl">60</text>
<line x1="384.00" y1="435.66" x2="389.50" y2="435.66" class="ax"/>
<text x="378.50" y="438.96" class="yl">80</text>
<line x1="384.00" y1="384.80" x2="389.50" y2="384.80" class="ax"/>
<text x="378.50" y="388.10" class="yl">100</text>
<text transform="translate(411.83,652.80) rotate(-90)" class="xl">bee</text>
<text transform="translate(430.30,652.80) rotate(-90)" class="xl">generalist</text>
<text transform="translate(448.77,652.80) rotate(-90)" class="xl">butterfly</text>
<text transform="translate(467.24,652.80) rotate(-90)" class="xl">bat</text>
<text transform="translate(485.71,652.80) rotate(-90)" class="xl">beetle</text>
<text transform="translate(504.18,652.80) rotate(-90)" class="xl">wasp</text>
<text transform="translate(522.64,652.80) rotate(-90)" class="xl">fly</text>
<text transform="translate(541.12,652.80) rotate(-90)" class="xl">moth</text>
<text transform="translate(559.59,652.80) rotate(-90)" class="xl">wind</text>
<text transform="translate(578.06,652.80) rotate(-90)" class="xl">bird</text>
<text transform="translate(596.53,652.80) rotate(-90)" class="xl">hawkmoth</text>
<text transform="translate(615.00,652.80) rotate(-90)" class="xl">hummingbird</text>
<text transform="translate(633.47,652.80) rotate(-90)" class="xl">ant</text>
<text transform="translate(651.94,652.80) rotate(-90)" class="xl">other</text>
<text transform="translate(670.40,652.80) rotate(-90)" class="xl">thrips</text>
<text x="538.10" y="366.20" class="tt">d) Breeding system</text>
<text x="676.30" y="397.30" class="tg">d)</text>
</svg>
</body></html>
